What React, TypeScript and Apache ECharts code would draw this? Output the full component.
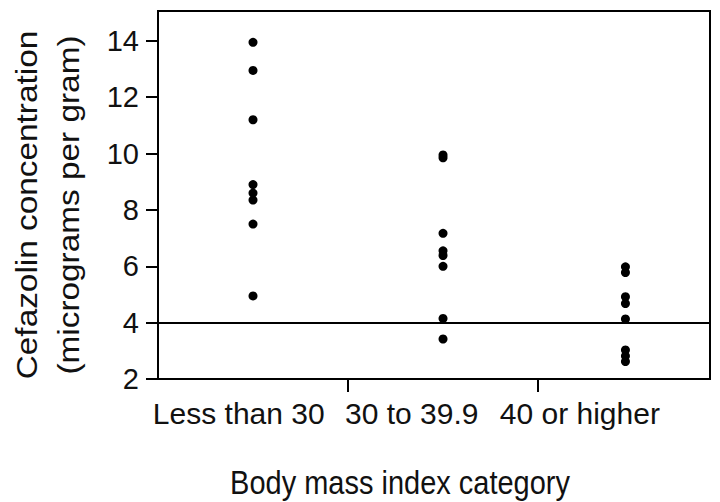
import React, { useEffect, useRef } from "react";
import * as echarts from "echarts";

// Category labels and their positions along the x value axis
const categories = ["Less than 30", "30 to 39.9", "40 or higher"];
const categoryLabelX = [0.425, 1.335, 2.22];
// Column x-positions of the dots for each group
const groupX = [0.5, 1.5, 2.46];
// Tick positions on x (between groups)
const xTicks = [1, 2];
// y tick labels
const yTicks = [2, 4, 6, 8, 10, 12, 14];

// Cefazolin concentration values per BMI group
const lessThan30 = [13.95, 12.95, 11.2, 8.9, 8.6, 8.35, 7.5, 4.95];
const from30to39 = [9.95, 9.85, 7.17, 6.55, 6.38, 6.0, 4.15, 3.42];
const from40up = [5.98, 5.78, 4.92, 4.68, 4.13, 3.03, 2.82, 2.62];
const groups = [lessThan30, from30to39, from40up];

const threshold = 4;

const FONT = "'Liberation Sans', Arial, sans-serif";

export default function App() {
  const ref = useRef<HTMLDivElement>(null);
  useEffect(() => {
    if (!ref.current) return;
    const chart = echarts.init(ref.current, null, { renderer: "svg" });
    const data = groups.flatMap((vals, gi) => vals.map((v) => [groupX[gi], v]));
    chart.setOption({
      animation: false,
      backgroundColor: "#fff",
      grid: {
        left: 158,
        right: 10,
        top: 11,
        bottom: 123,
        show: true,
        borderColor: "#000",
        borderWidth: 2,
        backgroundColor: "transparent",
      },
      xAxis: {
        type: "value",
        min: 0,
        max: 2.905,
        splitLine: { show: false },
        axisLine: { show: true, lineStyle: { color: "#000", width: 2 } },
        axisTick: {
          show: true,
          customValues: xTicks,
          length: 13,
          lineStyle: { color: "#000", width: 2 },
        },
        axisLabel: {
          customValues: categoryLabelX,
          formatter: (v: number) => {
            const i = categoryLabelX.findIndex((x) => Math.abs(x - v) < 1e-6);
            return i >= 0 ? categories[i] : "";
          },
          margin: 19,
          fontSize: 30,
          fontFamily: FONT,
          color: "#111",
        },
      },
      yAxis: {
        type: "value",
        min: 2,
        max: 15.06,
        splitLine: { show: false },
        axisLine: { show: true, lineStyle: { color: "#000", width: 2 } },
        axisTick: {
          show: true,
          customValues: yTicks,
          length: 12,
          lineStyle: { color: "#000", width: 2 },
        },
        axisLabel: {
          customValues: yTicks,
          margin: 19,
          fontSize: 29,
          fontFamily: FONT,
          color: "#111",
        },
      },
      graphic: [
        {
          type: "text",
          x: 48,
          y: 205,
          rotation: Math.PI / 2,
          scaleX: 1.15,
          style: {
            text: "Cefazolin concentration\n(micrograms per gram)",
            textAlign: "center",
            textVerticalAlign: "middle",
            fontSize: 29,
            lineHeight: 42,
            fontFamily: FONT,
            fill: "#111",
          },
        },
        {
          type: "text",
          x: 400,
          y: 483,
          scaleY: 1.12,
          style: {
            text: "Body mass index category",
            textAlign: "center",
            textVerticalAlign: "middle",
            fontSize: 29,
            fontFamily: FONT,
            fill: "#111",
          },
        },
      ],
      series: [
        {
          type: "scatter",
          data,
          symbol: "circle",
          symbolSize: 9,
          itemStyle: { color: "#000", opacity: 1 },
          markLine: {
            silent: true,
            symbol: ["none", "none"],
            label: { show: false },
            lineStyle: { color: "#000", width: 2, type: "solid", opacity: 1 },
            data: [{ yAxis: threshold }],
          },
        },
      ],
    });
    return () => chart.dispose();
  }, []);
  return (
    <div
      ref={ref}
      style={{ position: "fixed", left: 0, top: 0, width: 720, height: 502 }}
    />
  );
}
